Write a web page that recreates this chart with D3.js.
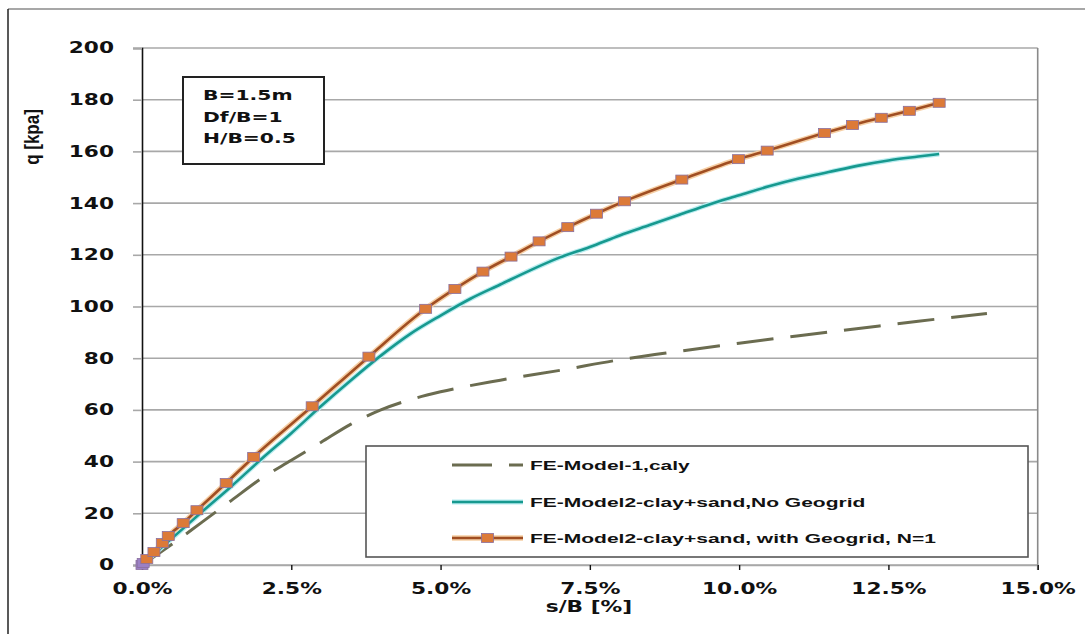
<!DOCTYPE html>
<html>
<head>
<meta charset="utf-8">
<script src="https://cdn.jsdelivr.net/npm/d3@7"></script>
<style>
  body { margin: 0; background: #fff; }
  svg { display: block; }
</style>
</head>
<body>
<div id="chartContainer"></div>
<script>
// values: s/B in %, q in kPa
var clayX = [0, 0.5, 1.0, 1.5, 2.0, 2.5, 3.0, 3.5, 4.0, 4.5, 5.0, 6.0, 7.0, 8.0, 9.0, 10.0, 11.0, 12.0, 13.0, 14.15];
var clayQ = [0, 8, 16.5, 25, 33.5, 40.5, 47.5, 54.5, 60, 64, 67, 71.5, 75.3, 79.4, 82.7, 85.8, 88.7, 91.5, 94.3, 97.3];

var noGridX = [0, 0.5, 1.0, 1.5, 2.0, 2.5, 3.0, 3.5, 4.0, 4.5, 5.0, 5.5, 6.0, 6.5, 7.0, 7.5, 8.0, 8.5, 9.0, 9.5, 10.0, 10.5, 11.0, 11.5, 12.0, 12.5, 13.0, 13.35];
var noGridQ = [0, 10.3, 20.5, 30.5, 41, 51, 61.5, 71.5, 81, 89.5, 96.5, 103, 108.5, 114, 119, 123, 127.5, 131.5, 135.5, 139.5, 143, 146.5, 149.5, 152, 154.5, 156.5, 158, 159];

var gridX = [0, 0.02, 0.08, 0.20, 0.34, 0.44, 0.69, 0.92, 1.41, 1.87, 2.85, 3.80, 4.75, 5.24, 5.71, 6.18, 6.65, 7.13, 7.61, 8.08, 9.04, 9.99, 10.47, 11.43, 11.90, 12.38, 12.85, 13.35];
var gridQ = [0, 0.8, 2.3, 5.0, 8.5, 11.2, 16.2, 21.2, 31.7, 41.8, 61.4, 80.6, 99.1, 106.8, 113.5, 119.3, 125.2, 130.7, 135.9, 140.7, 149.1, 157.0, 160.3, 167.1, 170.2, 173.0, 175.7, 178.8];

var seriesNames = ["FE-Model-1,caly", "FE-Model2-clay+sand,No Geogrid", "FE-Model2-clay+sand, with Geogrid, N=1"];
var noteLines = ["B=1.5m", "Df/B=1", "H/B=0.5"];
var xTicks = [0, 2.5, 5.0, 7.5, 10.0, 12.5, 15.0];
var yTicks = [0, 20, 40, 60, 80, 100, 120, 140, 160, 180, 200];

var width = 1085, height = 634;
var plot = { left: 142, right: 1037.7, top: 48, bottom: 565 };
var stretch = 1.4;   // the picture's text is wide
var font = "'DejaVu Sans', Verdana, sans-serif";
var arial = "'Liberation Sans', Arial, sans-serif";

var svg = d3.select("#chartContainer").append("svg")
    .attr("width", width)
    .attr("height", height);

// outer frame (only left and top visible)
svg.append("line").attr("x1", 8).attr("x2", width).attr("y1", 9).attr("y2", 9)
    .attr("stroke", "#8a8a8a").attr("stroke-width", 1.5);
svg.append("line").attr("x1", 8).attr("x2", 8).attr("y1", 9).attr("y2", height)
    .attr("stroke", "#222").attr("stroke-width", 1.5);

var x = d3.scaleLinear().domain([0, 15]).range([plot.left, plot.right]);
var y = d3.scaleLinear().domain([0, 200]).range([plot.bottom, plot.top]);

function toPoints(xs, qs) {
    return xs.map(function (d, i) { return { x: d, q: qs[i] }; });
}
var clay = toPoints(clayX, clayQ);
var noGrid = toPoints(noGridX, noGridQ);
var withGrid = toPoints(gridX, gridQ);

// gridlines
svg.append("g").selectAll("line").data(yTicks).join("line")
    .attr("x1", plot.left).attr("x2", plot.right)
    .attr("y1", function (d) { return y(d); }).attr("y2", function (d) { return y(d); })
    .attr("stroke", "#a8a8a8").attr("stroke-width", 1.6);

// right border of the plot
svg.append("line").attr("x1", plot.right).attr("x2", plot.right)
    .attr("y1", plot.top).attr("y2", plot.bottom + 5)
    .attr("stroke", "#8a8a8a").attr("stroke-width", 1.6);

// y axis
var yAxis = svg.append("g")
    .attr("transform", "translate(" + plot.left + ",0)")
    .call(d3.axisLeft(y).tickValues(yTicks).tickSize(9).tickPadding(11).tickFormat(d3.format("d")));
yAxis.select(".domain").attr("stroke", "#111").attr("stroke-width", 1.6);
yAxis.selectAll(".tick line").attr("stroke", "#a8a8a8").attr("stroke-width", 1.6);
yAxis.selectAll(".tick text")
    .attr("font-family", font).attr("font-weight", "bold").attr("font-size", 15.5)
    .attr("fill", "#111")
    .attr("transform", "scale(" + stretch + ",1)");

// x axis
var xAxis = svg.append("g")
    .attr("transform", "translate(0," + plot.bottom + ")")
    .call(d3.axisBottom(x).tickValues(xTicks).tickSize(5).tickPadding(13)
        .tickFormat(function (d) { return d.toFixed(1) + "%"; }));
xAxis.select(".domain").attr("stroke", "#a8a8a8").attr("stroke-width", 1.6);
xAxis.selectAll(".tick line").attr("stroke", "#111").attr("stroke-width", 1.4);
xAxis.selectAll(".tick text")
    .attr("font-family", font).attr("font-weight", "bold").attr("font-size", 15.5)
    .attr("fill", "#111")
    .attr("transform", "scale(" + stretch + ",1)");

// axis titles
svg.append("text")
    .attr("transform", "translate(589,612) scale(" + stretch + ",1)")
    .attr("text-anchor", "middle")
    .attr("font-family", font).attr("font-weight", "bold").attr("font-size", 15.5)
    .attr("fill", "#111")
    .text("s/B [%]");
svg.append("text")
    .attr("transform", "translate(39,137) rotate(-90) scale(1,1.15)")
    .attr("text-anchor", "middle")
    .attr("font-family", arial).attr("font-weight", "bold").attr("font-size", 17)
    .attr("fill", "#111")
    .text("q [kpa]");

// curves
var line = d3.line()
    .x(function (d) { return x(d.x); })
    .y(function (d) { return y(d.q); })
    .curve(d3.curveMonotoneX);

svg.append("path").datum(clay)
    .attr("fill", "none").attr("stroke", "#6b6c50").attr("stroke-width", 3)
    .attr("stroke-dasharray", "37,17")
    .attr("d", line);

svg.append("path").datum(noGrid)
    .attr("fill", "none").attr("stroke", "#b8ecef").attr("stroke-width", 5)
    .attr("d", line);
svg.append("path").datum(noGrid)
    .attr("fill", "none").attr("stroke", "#17998f").attr("stroke-width", 2.6)
    .attr("d", line);

svg.append("path").datum(withGrid)
    .attr("fill", "none").attr("stroke", "#f6cfa5").attr("stroke-width", 5.5)
    .attr("d", line);
svg.append("path").datum(withGrid)
    .attr("fill", "none").attr("stroke", "#a04e22").attr("stroke-width", 2.6)
    .attr("d", line);

svg.append("g").selectAll("rect").data(withGrid).join("rect")
    .attr("x", function (d) { return x(d.x) - 6; })
    .attr("y", function (d) { return y(d.q) - 4.5; })
    .attr("width", 12).attr("height", 9)
    .attr("fill", function (d, i) { return i < 2 ? "#9b80c4" : "#dc7a38"; })
    .attr("stroke", "#8a6f9e").attr("stroke-width", 0.8);

// note box
var note = svg.append("g");
note.append("rect")
    .attr("x", 183).attr("y", 77).attr("width", 141).attr("height", 87)
    .attr("fill", "#fff").attr("stroke", "#222").attr("stroke-width", 2);
note.selectAll("text").data(noteLines).join("text")
    .attr("transform", function (d, i) { return "translate(203," + (100 + i * 21.5) + ") scale(" + stretch + ",1)"; })
    .attr("font-family", font).attr("font-weight", "bold").attr("font-size", 14.5)
    .attr("fill", "#111")
    .text(function (d) { return d; });

// legend
var legend = svg.append("g");
legend.append("rect")
    .attr("x", 366).attr("y", 446).attr("width", 662).attr("height", 111)
    .attr("fill", "#fff").attr("stroke", "#555").attr("stroke-width", 1.6);

var rowY = [465, 502, 538];
var lx0 = 452, lx1 = 523;

legend.append("line").attr("x1", lx0).attr("x2", lx1).attr("y1", rowY[0]).attr("y2", rowY[0])
    .attr("stroke", "#6b6c50").attr("stroke-width", 3).attr("stroke-dasharray", "40,17");

legend.append("line").attr("x1", lx0).attr("x2", lx1).attr("y1", rowY[1]).attr("y2", rowY[1])
    .attr("stroke", "#b8ecef").attr("stroke-width", 5);
legend.append("line").attr("x1", lx0).attr("x2", lx1).attr("y1", rowY[1]).attr("y2", rowY[1])
    .attr("stroke", "#17998f").attr("stroke-width", 2.6);

legend.append("line").attr("x1", lx0).attr("x2", lx1).attr("y1", rowY[2]).attr("y2", rowY[2])
    .attr("stroke", "#f6cfa5").attr("stroke-width", 5.5);
legend.append("line").attr("x1", lx0).attr("x2", lx1).attr("y1", rowY[2]).attr("y2", rowY[2])
    .attr("stroke", "#a04e22").attr("stroke-width", 2.6);
legend.append("rect")
    .attr("x", (lx0 + lx1) / 2 - 6).attr("y", rowY[2] - 4.5).attr("width", 12).attr("height", 9)
    .attr("fill", "#dc7a38").attr("stroke", "#8a6f9e").attr("stroke-width", 0.8);

legend.selectAll("text").data(seriesNames).join("text")
    .attr("transform", function (d, i) { return "translate(530," + (rowY[i] + 4.5) + ") scale(1.75,1)"; })
    .attr("font-family", arial).attr("font-weight", "bold").attr("font-size", 12)
    .attr("fill", "#111")
    .text(function (d) { return d; });
</script>
</body>
</html>
